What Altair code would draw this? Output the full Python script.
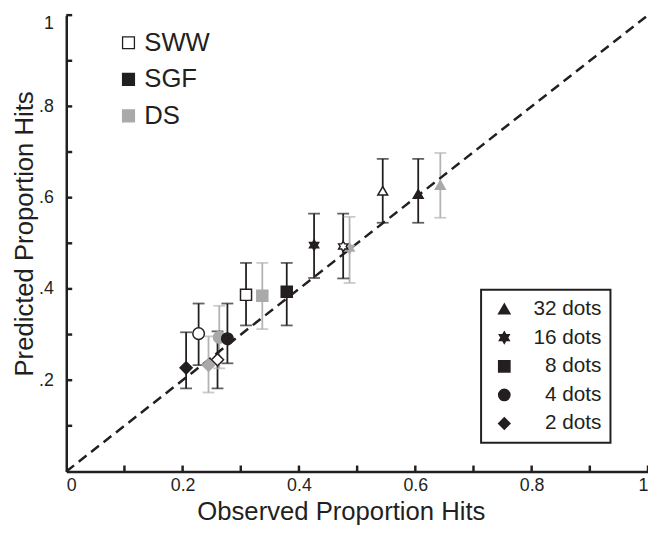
import altair as alt
import pandas as pd

# zero-width space + figure space (digit-wide) right-aligns the one-digit "dots" labels
PAD = "\u200b\u2007"

# ---- data ----
groups = ["DS"] * 5 + ["SWW"] * 5 + ["SGF"] * 5
dot_order = ["32 dots", "16 dots", PAD + "8 dots", PAD + "4 dots", PAD + "2 dots"]
dots = dot_order * 3
observed = [0.643, 0.487, 0.337, 0.263, 0.2445,
            0.544, 0.476, 0.309, 0.2275, 0.260,
            0.605, 0.426, 0.379, 0.277, 0.206]
predicted = [0.628, 0.489, 0.385, 0.294, 0.233,
             0.615, 0.493, 0.387, 0.302, 0.245,
             0.608, 0.496, 0.394, 0.291, 0.227]
lower = [0.556, 0.413, 0.312, 0.226, 0.173,
         0.545, 0.423, 0.320, 0.233, 0.182,
         0.545, 0.424, 0.320, 0.237, 0.182]
upper = [0.698, 0.558, 0.457, 0.363, 0.296,
         0.685, 0.565, 0.457, 0.368, 0.307,
         0.685, 0.565, 0.457, 0.368, 0.305]

group_order = ["SWW", "SGF", "DS"]
bar_order = ["DS", "SGF", "SWW"]          # different order keeps this legend-less scale apart
size_order = list(reversed(dot_order))
diag_values = [0, 1]
x_tick_values = [0.1, 0.2, 0.3, 0.4, 0.5, 0.6, 0.7, 0.8, 0.9, 1.0]
y_tick_values = [0.1, 0.2, 0.3, 0.4, 0.5, 0.6, 0.7, 0.8, 0.9, 1.0]
x_label_values = [0, 0.2, 0.4, 0.6, 0.8, 1]
y_label_values = [0.2, 0.4, 0.6, 0.8, 1]

df = pd.DataFrame({"group": groups, "dots": dots, "observed": observed,
                   "predicted": predicted, "lower": lower, "upper": upper})
df["bar_group"] = df["group"]
df["size_key"] = df["dots"]
diag = pd.DataFrame({"v": diag_values})
xt = pd.DataFrame({"t": x_tick_values})
yt = pd.DataFrame({"t": y_tick_values})

INK = "#231f20"
GRAY_MARK = "#a9a9a9"
GRAY_BAR = "#b3b3b3"
FONT = "Liberation Sans"
W, H = 589, 462

HEX = ("M0,-1L0.2887,-0.5L0.866,-0.5L0.5774,0L0.866,0.5L0.2887,0.5L0,1"
       "L-0.2887,0.5L-0.866,0.5L-0.5774,0L-0.866,-0.5L-0.2887,-0.5Z")

xscale = alt.Scale(domain=[0, 1], nice=False)
yscale = alt.Scale(domain=[0, 1], nice=False)

xaxis = alt.Axis(values=x_label_values, grid=False, ticks=False,
                 labelExpr="datum.value == 0 ? '0' : datum.value == 1 ? '1' : format(datum.value, '.1f')",
                 labelFont=FONT, labelFontSize=18, labelColor=INK, labelPadding=5,
                 domainColor=INK, domainWidth=2.5,
                 title="Observed Proportion Hits", titleFont=FONT, titleFontSize=26,
                 titleFontWeight="normal", titleColor=INK,
                 titleX=278, titleY=49, titleBaseline="alphabetic")
yaxis = alt.Axis(values=y_label_values, grid=False, ticks=False, labelFlush=True,
                 labelExpr="datum.value == 1 ? '1' : replace(format(datum.value, '.1f'), '0.', '.')",
                 labelFont=FONT, labelFontSize=18, labelColor=INK, labelPadding=13,
                 domainColor=INK, domainWidth=2.5,
                 title="Predicted Proportion Hits", titleFont=FONT, titleFontSize=26,
                 titleFontWeight="normal", titleColor=INK,
                 titleX=-42, titleY=221, titleBaseline="middle")

X = lambda f: alt.X(f, scale=xscale, axis=xaxis)
Y = lambda f: alt.Y(f, scale=yscale, axis=yaxis)

bar_color = alt.Color("bar_group:N",
                      scale=alt.Scale(domain=bar_order, range=[GRAY_BAR, INK, INK]),
                      legend=None)

# inward ticks
xticks = alt.Chart(xt).mark_rule(color=INK, strokeWidth=2.5).encode(
    x=X("t:Q"), y=alt.value(H), y2=alt.value(H - 6))
yticks = alt.Chart(yt).mark_rule(color=INK, strokeWidth=2.5).encode(
    y=Y("t:Q"), x=alt.value(0), x2=alt.value(6))

base = alt.Chart(df)
rules = base.mark_rule(strokeWidth=1.8).encode(
    x=X("observed:Q"), y=Y("lower:Q"), y2="upper:Q", color=bar_color)
cap_lo = base.mark_tick(orient="horizontal", size=12, thickness=1.8).encode(
    x=X("observed:Q"), y=Y("lower:Q"), color=bar_color)
cap_hi = base.mark_tick(orient="horizontal", size=12, thickness=1.8).encode(
    x=X("observed:Q"), y=Y("upper:Q"), color=bar_color)

line = alt.Chart(diag).mark_line(color=INK, strokeWidth=2.5, strokeDash=[10, 6]).encode(
    x=X("v:Q"), y=Y("v:Q"))

grp_legend = alt.Legend(orient="none", legendX=50, legendY=15, title=None,
                        symbolType="square", symbolSize=144, symbolStrokeWidth=1.3,
                        labelFont=FONT, labelFontSize=26, labelColor=INK,
                        labelOffset=3, rowPadding=11, padding=0)
dot_legend = alt.Legend(orient="none", legendX=420, legendY=278, title=None,
                        strokeColor=INK, padding=9, symbolOffset=4, symbolSize=130,
                        symbolFillColor=INK, symbolStrokeColor=INK,
                        labelFont=FONT, labelFontSize=21, labelColor=INK,
                        labelOffset=19, rowPadding=7)

points = base.mark_point(filled=True, strokeWidth=1.5, opacity=1).encode(
    x=X("observed:Q"), y=Y("predicted:Q"),
    fill=alt.Fill("group:N", scale=alt.Scale(domain=group_order, range=["#ffffff", INK, GRAY_MARK]),
                  legend=grp_legend),
    stroke=alt.Stroke("group:N", scale=alt.Scale(domain=group_order, range=[INK, INK, GRAY_MARK]),
                      legend=grp_legend),
    shape=alt.Shape("dots:N", scale=alt.Scale(domain=dot_order,
                    range=["triangle-up", HEX, "square", "circle", "diamond"]),
                    legend=dot_legend),
    size=alt.Size("size_key:N", scale=alt.Scale(domain=size_order, range=[150, 100, 100, 165, 130]),
                  legend=None),
)

chart = alt.layer(xticks, yticks, rules, cap_lo, cap_hi, line, points).properties(
    width=W, height=H,
    autosize=alt.AutoSizeParams(type="none"),
    padding={"left": 59, "top": 4, "right": 0, "bottom": 52},
).configure(font=FONT).configure_view(stroke=None).configure_legend(strokeWidth=2)

chart.save("out.html", embed_options={"renderer": "svg", "actions": False})
